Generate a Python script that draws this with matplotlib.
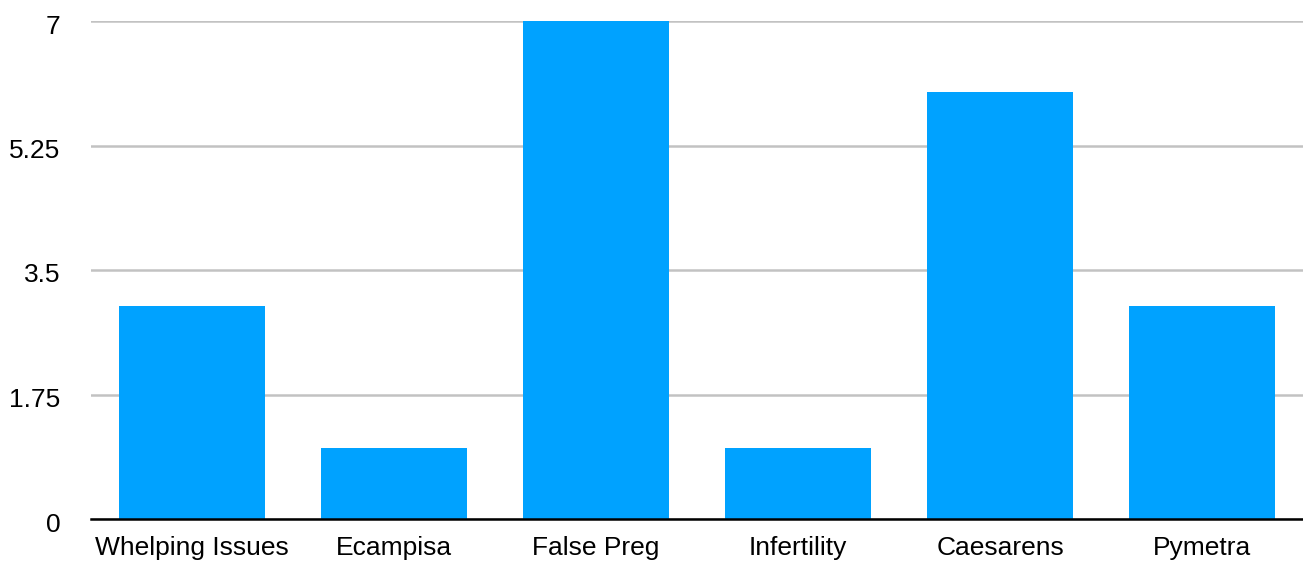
import matplotlib.pyplot as plt
import matplotlib.transforms as mtransforms

categories = ["Whelping Issues", "Ecampisa", "False Preg", "Infertility", "Caesarens", "Pymetra"]
counts = [3, 1, 7, 1, 6, 3]
yticks = [0, 1.75, 3.5, 5.25, 7]
ytick_labels = ["0", "1.75", "3.5", "5.25", "7"]

plt.rcParams["font.family"] = ["Liberation Sans", "DejaVu Sans"]

fig = plt.figure(figsize=(13.03, 5.65), dpi=100)
ax = fig.add_axes([91 / 1303, 46 / 565, 1212 / 1303, 498 / 565])

x = range(len(categories))
ax.bar(x, counts, width=0.72, color="#00A2FF", zorder=3)

ax.set_xlim(-0.5, len(categories) - 0.5)
ax.set_ylim(0, 7)
ax.set_yticks(yticks)
ax.set_yticklabels(ytick_labels)
ax.set_xticks(list(x))
ax.set_xticklabels(categories)
ax.grid(axis="y", color="#C2C2C2", linewidth=1.8, zorder=0)
ax.tick_params(axis="both", length=0, labelsize=19, colors="black")
ax.tick_params(axis="y", pad=22)
ax.tick_params(axis="x", pad=12)

# nudge y labels slightly down like the original
shift = mtransforms.ScaledTranslation(0, -3 / 100, fig.dpi_scale_trans)
for lab in ax.get_yticklabels():
    lab.set_transform(lab.get_transform() + shift)

for side in ["top", "right", "left"]:
    ax.spines[side].set_visible(False)
ax.spines["bottom"].set_color("black")
ax.spines["bottom"].set_linewidth(1.8)
ax.spines["bottom"].set_zorder(4)

fig.savefig("out.png", dpi=100)
